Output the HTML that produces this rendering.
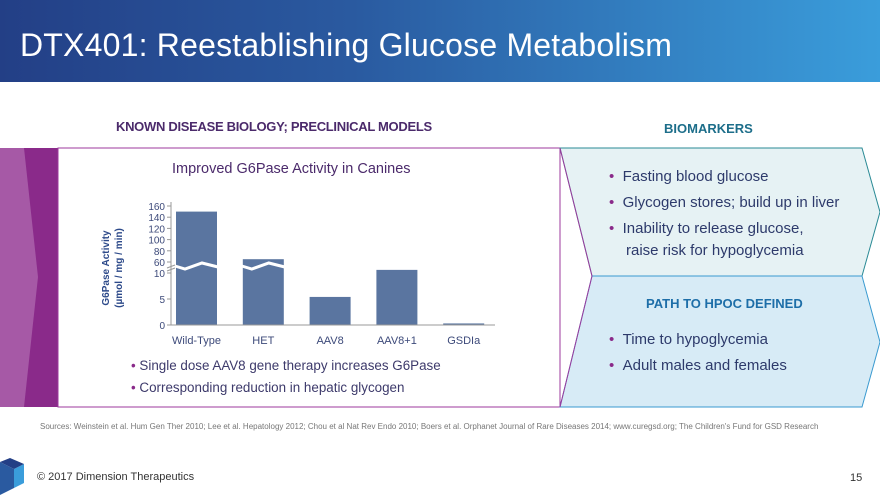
<!DOCTYPE html>
<html><head><meta charset="utf-8"><style>
body{margin:0;width:880px;height:495px;position:relative;overflow:hidden;background:#fff;font-family:"Liberation Sans",sans-serif}
.abs{position:absolute}
</style></head><body>
<div class="abs" style="left:0;top:0;width:880px;height:82px;background:linear-gradient(90deg,#233f86 0%,#2a5aa0 40%,#3a9ddb 100%)"></div>
<div class="abs" style="left:20px;top:27px;color:#fff;font-size:32px;letter-spacing:0.2px">DTX401: Reestablishing Glucose Metabolism</div>
<div class="abs" style="left:116px;top:119px;color:#4b2a6b;font-size:13px;font-weight:bold;letter-spacing:-0.3px">KNOWN DISEASE BIOLOGY; PRECLINICAL MODELS</div>
<div class="abs" style="left:664px;top:121px;color:#1d6e8a;font-size:13px;font-weight:bold">BIOMARKERS</div>

<svg class="abs" style="left:0;top:0" width="880" height="495">
<rect x="0" y="148" width="58" height="259" fill="#8a2a8a"/>
<polygon points="0,148 24,148 38,277 24,407 0,407" fill="#a659a6"/>
<rect x="58" y="148" width="502" height="259" fill="#fff" stroke="#9c3a9c" stroke-width="1"/>
<polygon points="560,148 862,148 880,212 862,276 592,276" fill="#e6f2f4" stroke="#2a8a95" stroke-width="1"/>
<polygon points="592,276 862,276 880,342 862,407 560,407" fill="#d7ebf6" stroke="#3a9ad0" stroke-width="1"/>
<line x1="560" y1="148" x2="592" y2="276" stroke="#9c3a9c"/><line x1="592" y1="276" x2="560" y2="407" stroke="#9c3a9c"/>
</svg>

<div class="abs" style="left:172px;top:161px;color:#4b2a6b;font-size:14.5px">Improved G6Pase Activity in Canines</div>
<svg class="abs" id="chart" style="left:0;top:0" width="560" height="400"></svg>

<div class="abs" style="left:131px;top:355px;color:#3d3a6b;font-size:13.4px;line-height:22px">
<div><span style="color:#8a2a8a">•</span> Single dose AAV8 gene therapy increases G6Pase</div>
<div><span style="color:#8a2a8a">•</span> Corresponding reduction in hepatic glycogen</div></div>
<div class="abs" style="left:609px;top:166px;color:#2d3a6b;font-size:15px;line-height:22px">
<div style="margin-bottom:4px"><span style="color:#8a2a8a">•</span>&nbsp;&nbsp;Fasting blood glucose</div>
<div style="margin-bottom:4px"><span style="color:#8a2a8a">•</span>&nbsp;&nbsp;Glycogen stores; build up in liver</div>
<div><span style="color:#8a2a8a">•</span>&nbsp;&nbsp;Inability to release glucose,</div>
<div style="padding-left:17px">raise risk for hypoglycemia</div></div>
<div class="abs" style="left:646px;top:296px;color:#1d6ea8;font-size:13px;font-weight:bold">PATH TO HPOC DEFINED</div>
<div class="abs" style="left:609px;top:329px;color:#2d3a6b;font-size:15px;line-height:22px">
<div style="margin-bottom:4px"><span style="color:#8a2a8a">•</span>&nbsp;&nbsp;Time to hypoglycemia</div>
<div><span style="color:#8a2a8a">•</span>&nbsp;&nbsp;Adult males and females</div></div>

<div class="abs" style="left:40px;top:422px;color:#777;font-size:8px;white-space:nowrap">Sources: Weinstein et al. Hum Gen Ther 2010; Lee et al. Hepatology 2012; Chou et al Nat Rev Endo 2010; Boers et al. Orphanet Journal of Rare Diseases 2014; www.curegsd.org; The Children's Fund for GSD Research</div>
<svg class="abs" style="left:0;top:458px" width="24" height="37">
<polygon points="0,4 14,11 14,30 0,37" fill="#2a5aa0"/><polygon points="14,11 24,6 24,25 14,30" fill="#3a9ddb"/><polygon points="0,4 10,0 24,6 14,11" fill="#233f86"/></svg>
<div class="abs" style="left:37px;top:471px;color:#333;font-size:11px">© 2017 Dimension Therapeutics</div>
<div class="abs" style="left:850px;top:472px;color:#333;font-size:11px">15</div>

<script>
const categories=["Wild-Type","HET","AAV8","AAV8+1","GSDIa"];
const values=[150,65,5.4,10.6,0.3];
const upperTicks=[160,140,120,100,80,60];
const lowerTicks=[10,5,0];
const svg=document.getElementById('chart');
const NS="http://www.w3.org/2000/svg";
function y(v){
  if(v<=11.35) return 325-v*5.2;
  if(v>=60) return 262-(v-60)*0.56;
  return 266-(v-11.35)/(60-11.35)*4;
}
function x(i){return 176+i*66.8;}
const bw=41;
function mk(t,a){const e=document.createElementNS(NS,t);for(const k in a)e.setAttribute(k,a[k]);svg.appendChild(e);return e;}
categories.forEach((c,i)=>{
  const r=mk('rect',{x:x(i),y:y(values[i]),width:bw,height:325-y(values[i]),fill:'#5a75a0'});
  
  
  const t=mk('text',{x:x(i)+bw/2,y:344,'text-anchor':'middle','font-size':'11',fill:'#3d4a7a','font-family':'Liberation Sans'});
  t.textContent=c;
  
  
  if(values[i]>60){
    const w=mk('path',{d:`M${x(i)-1},266 L${x(i)+9},269 L${x(i)+26},263 L${x(i)+bw+1},267`,stroke:'#fff','stroke-width':3,fill:'none'});
    
    
  }
});
mk('line',{x1:171,y1:202,x2:171,y2:325,stroke:'#999'});
mk('line',{x1:171,y1:325,x2:495,y2:325,stroke:'#999'});
mk('path',{d:'M167,268 L175,265 M167,271 L175,268',stroke:'#999'});
upperTicks.concat(lowerTicks).forEach(v=>{
  mk('line',{x1:167,y1:y(v),x2:171,y2:y(v),stroke:'#999'});
  const t=mk('text',{x:165,y:y(v)+4,'text-anchor':'end','font-size':'10',fill:'#3d4a7a','font-family':'Liberation Sans'});
  t.textContent=v;
  
  
});
const yt=mk('text',{transform:'translate(109,268) rotate(-90)','text-anchor':'middle','font-size':'10','font-weight':'bold',fill:'#2d4a8a','font-family':'Liberation Sans'});
yt.innerHTML='<tspan x="0" dy="0">G6Pase Activity</tspan><tspan x="0" dy="13">(µmol / mg / min)</tspan>';


</script>
</body></html>
